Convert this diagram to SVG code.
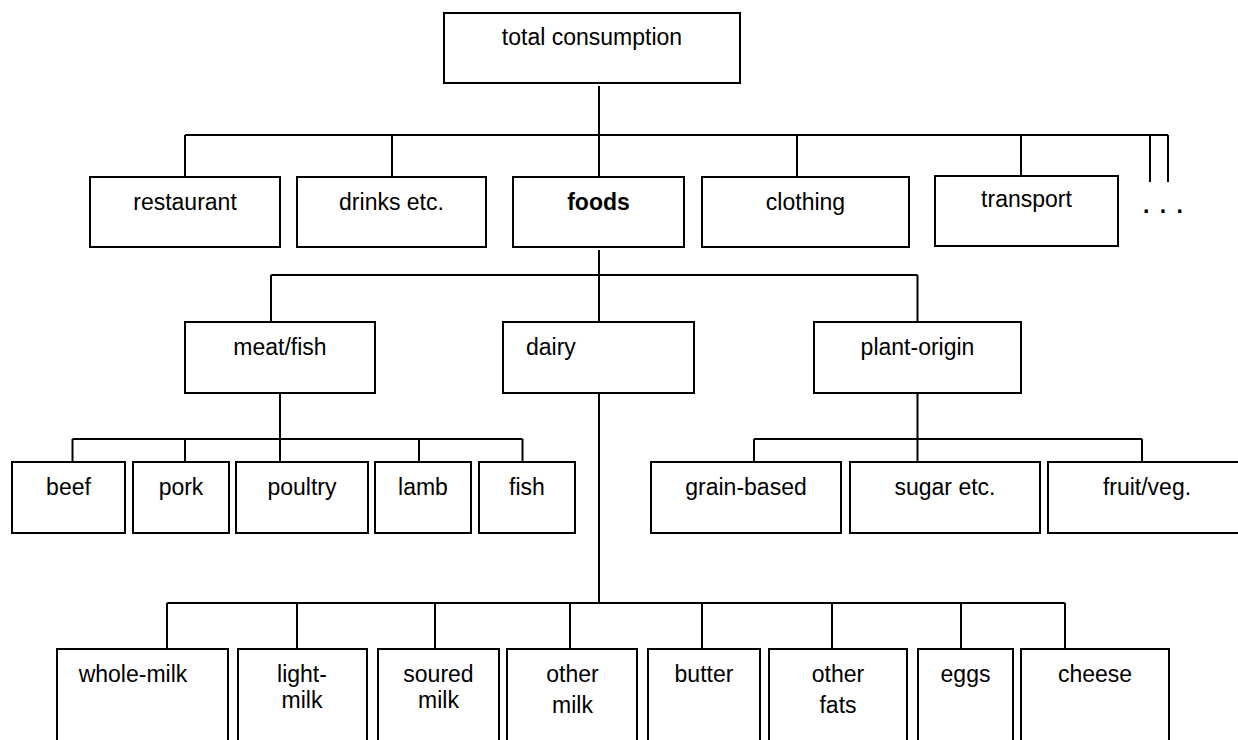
<svg xmlns="http://www.w3.org/2000/svg" width="1238" height="740" viewBox="0 0 1238 740">
<style>
.box{fill:#fff;stroke:#000;stroke-width:2}
.ln{stroke:#000;stroke-width:2;fill:none}
text{font-family:"Liberation Sans",Arial,sans-serif;font-size:23px;fill:#000;text-anchor:middle}
.b{font-weight:bold}
.l{text-anchor:start}
</style>
<rect width="1238" height="740" fill="#fff"/>
<g id="connectors" class="ln">
<path d="M599 86V177M185 135H1168M185 135V177M392 135V177M797 135V177M1021 135V176M1150 135V182M1168 135V182"/>
<path d="M599 250V322M271 275H917.5M271 275V322M917.5 275V322"/>
<path d="M280 393V439M72.5 439H522.5M72.5 439V462M185 439V462M280 439V462M419 439V462M522.5 439V462"/>
<path d="M917.5 393V462M754 439H1142M754 439V462M1142 439V462"/>
<path d="M599 393V603M167 603H1065M167 603V649M297 603V649M435 603V649M570 603V649M702 603V649M832 603V649M961 603V649M1065 603V649"/>
</g>
<g id="n-total"><rect class="box" x="444" y="13" width="296" height="70"/><text x="592" y="45">total consumption</text></g>
<g id="n-restaurant"><rect class="box" x="90" y="177" width="190" height="70"/><text x="185" y="210">restaurant</text></g>
<g id="n-drinks"><rect class="box" x="297" y="177" width="189" height="70"/><text x="391.5" y="210">drinks etc.</text></g>
<g id="n-foods"><rect class="box" x="513" y="177" width="171" height="70"/><text class="b" x="598.5" y="210">foods</text></g>
<g id="n-clothing"><rect class="box" x="702" y="177" width="207" height="70"/><text x="805.5" y="210">clothing</text></g>
<g id="n-transport"><rect class="box" x="935" y="176" width="183" height="70"/><text x="1026.5" y="207">transport</text></g>
<g id="n-more"><text class="b" x="1164" y="213" style="letter-spacing:2px">. . .</text></g>
<g id="n-meat"><rect class="box" x="185" y="322" width="190" height="71"/><text x="280" y="355">meat/fish</text></g>
<g id="n-dairy"><rect class="box" x="503" y="322" width="191" height="71"/><text class="l" x="526" y="355">dairy</text></g>
<g id="n-plant"><rect class="box" x="814" y="322" width="207" height="71"/><text x="917.5" y="355">plant-origin</text></g>
<g id="n-beef"><rect class="box" x="12" y="462" width="113" height="71"/><text x="68.5" y="495">beef</text></g>
<g id="n-pork"><rect class="box" x="133" y="462" width="96" height="71"/><text x="181" y="495">pork</text></g>
<g id="n-poultry"><rect class="box" x="236" y="462" width="132" height="71"/><text x="302" y="495">poultry</text></g>
<g id="n-lamb"><rect class="box" x="375" y="462" width="96" height="71"/><text x="423" y="495">lamb</text></g>
<g id="n-fish"><rect class="box" x="479" y="462" width="96" height="71"/><text x="527" y="495">fish</text></g>
<g id="n-grain"><rect class="box" x="651" y="462" width="190" height="71"/><text x="746" y="495">grain-based</text></g>
<g id="n-sugar"><rect class="box" x="850" y="462" width="190" height="71"/><text x="945" y="495">sugar etc.</text></g>
<g id="n-fruit"><rect class="box" x="1048" y="462" width="198" height="71"/><text x="1147" y="495">fruit/veg.</text></g>
<g id="n-whole"><rect class="box" x="57" y="649" width="171" height="110"/><text x="133" y="682">whole-milk</text></g>
<g id="n-light"><rect class="box" x="238" y="649" width="129" height="110"/><text x="302" y="682">light-</text><text x="302" y="708">milk</text></g>
<g id="n-soured"><rect class="box" x="378" y="649" width="121" height="110"/><text x="438.5" y="682">soured</text><text x="438.5" y="708">milk</text></g>
<g id="n-othermilk"><rect class="box" x="507" y="649" width="130" height="110"/><text x="572.5" y="682">other</text><text x="572.5" y="713">milk</text></g>
<g id="n-butter"><rect class="box" x="648" y="649" width="112" height="110"/><text x="704" y="682">butter</text></g>
<g id="n-otherfats"><rect class="box" x="769" y="649" width="138" height="110"/><text x="838" y="682">other</text><text x="838" y="713">fats</text></g>
<g id="n-eggs"><rect class="box" x="918" y="649" width="95" height="110"/><text x="965.5" y="682">eggs</text></g>
<g id="n-cheese"><rect class="box" x="1021" y="649" width="148" height="110"/><text x="1095" y="682">cheese</text></g>
</svg>
